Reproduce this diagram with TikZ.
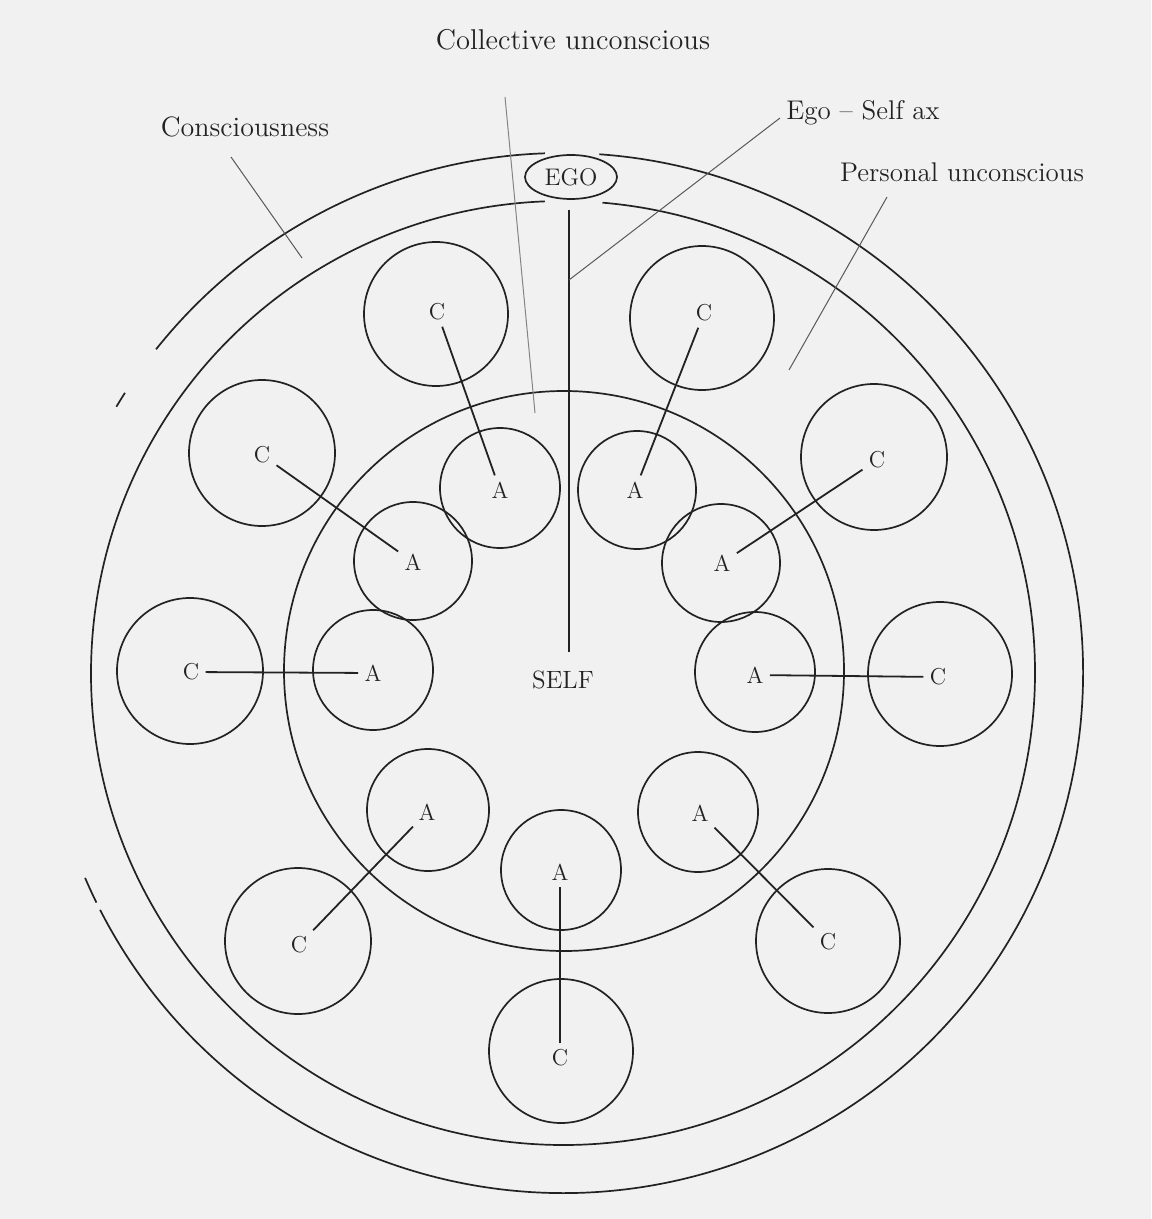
\documentclass[tikz,border=0pt]{standalone}
\usetikzlibrary{shapes.geometric}
\definecolor{paper}{RGB}{241,241,241}
\definecolor{ink}{RGB}{34,34,34}
\begin{document}
\begin{tikzpicture}[x=0.5pt,y=-0.5pt,
  ring/.style={draw=ink, line width=0.85pt},
  ccirc/.style={circle, draw=ink, line width=0.85pt, minimum size=72pt, inner sep=0pt},
  acirc/.style={circle, draw=ink, line width=0.85pt, minimum size=60pt, inner sep=0pt},
  letter/.style={font=\fontsize{11.5}{12}\selectfont, text=ink, inner sep=3pt},
  lbl/.style={font=\fontsize{13.5}{16}\selectfont, text=ink, inner sep=0pt},
  pointer/.style={draw=ink!75, line width=0.5pt},
  link/.style={draw=ink, line width=0.9pt}]
\useasboundingbox (0,0) rectangle (1151,1219);
\fill[paper] (0,0) rectangle (1151,1219);

% centre of the concentric circles
\coordinate (O) at (563,673);

% outermost circle (consciousness border), broken in places
\draw[ring] (O) ++(-92:520) arc[start angle=-92, end angle=-141.5, radius=520];
\draw[ring] (O) ++(-147.4:520) arc[start angle=-147.4, end angle=-149.2, radius=520];
\draw[ring] (O) ++(-203.2:520) arc[start angle=-203.2, end angle=-206.2, radius=520];
\draw[ring] (O) ++(-207.1:520) arc[start angle=-207.1, end angle=-446, radius=520];

% second circle (personal unconscious border), gap at the top
\draw[ring] (O) ++(-85.2:472) arc[start angle=-85.2, end angle=267.8, radius=472];

% inner circle (collective unconscious)
\node[circle, draw=ink, line width=0.85pt, minimum size=280pt, inner sep=0pt] (coll) at (564,671) {};

% EGO and SELF
\node[ellipse, draw=ink, line width=0.85pt, minimum width=46pt, minimum height=22pt, inner sep=0pt,
      font=\fontsize{12}{12}\selectfont, text=ink] (ego) at (571,177) {EGO};
\node[font=\fontsize{12.5}{13}\selectfont, text=ink] (self) at (563,680) {SELF};
\coordinate (axtop) at (569,210);
\coordinate (axbot) at (569,652);
\coordinate (axjoin) at (569,280);
\draw[ring] (axtop) -- (axbot);

% labels
\node[lbl, font=\fontsize{14.3}{16}\selectfont] (lcoll) at (573,40) {Collective unconscious};
\node[lbl, font=\fontsize{14}{16}\selectfont] (lcons) at (245,127) {Consciousness};
\node[lbl] (lego) at (863,113) {Ego -- Self ax};
\node[lbl] (lpers) at (962,172) {Personal unconscious};

\coordinate (pcoll1) at (505,97);  \coordinate (pcoll2) at (535,413);
\coordinate (pcons1) at (231,157); \coordinate (pcons2) at (302,258);
\coordinate (pego1) at (780,118);
\coordinate (ppers1) at (887,197); \coordinate (ppers2) at (789,370);
\draw[pointer, draw=ink!55] (pcoll1) -- (pcoll2);
\draw[pointer] (pcons1) -- (pcons2);
\draw[pointer] (pego1) -- (axjoin);
\draw[pointer] (ppers1) -- (ppers2);

% C circles (complexes)
\node[ccirc] (cc1) at (436,314) {};
\node[ccirc] (cc2) at (702,318) {};
\node[ccirc, minimum size=73pt] (cc3) at (262,453) {};
\node[ccirc, minimum size=73pt] (cc4) at (874,457) {};
\node[ccirc, minimum size=73pt] (cc5) at (190,671) {};
\node[ccirc] (cc6) at (940,674) {};
\node[ccirc, minimum size=73pt] (cc7) at (298,941) {};
\node[ccirc] (cc8) at (828,941) {};
\node[ccirc] (cc9) at (561,1051) {};

% A circles (archetypes)
\node[acirc] (ac1) at (500,488) {};
\node[acirc, minimum size=59pt] (ac2) at (637,490) {};
\node[acirc, minimum size=59pt] (ac3) at (413,561) {};
\node[acirc, minimum size=59pt] (ac4) at (721,563) {};
\node[acirc] (ac5) at (373,670) {};
\node[acirc] (ac6) at (755,672) {};
\node[acirc, minimum size=61pt] (ac7) at (428,810) {};
\node[acirc] (ac8) at (698,812) {};
\node[acirc] (ac9) at (561,870) {};

% letters
\node[letter] (c1) at (437,312) {C};
\node[letter] (c2) at (704,313) {C};
\node[letter] (c3) at (262,455) {C};
\node[letter] (c4) at (877,460) {C};
\node[letter] (c5) at (191,672) {C};
\node[letter] (c6) at (938,677) {C};
\node[letter] (c7) at (299,945) {C};
\node[letter] (c8) at (828,942) {C};
\node[letter] (c9) at (560,1058) {C};

\node[letter] (a1) at (500,490) {A};
\node[letter] (a2) at (635,490) {A};
\node[letter] (a3) at (413,562) {A};
\node[letter] (a4) at (722,563) {A};
\node[letter] (a5) at (373,673) {A};
\node[letter] (a6) at (755,675) {A};
\node[letter] (a7) at (427,812) {A};
\node[letter] (a8) at (700,813) {A};
\node[letter] (a9) at (560,872) {A};

% links between complexes and archetypes
\foreach \i in {1,...,9} { \draw[link] (c\i) -- (a\i); }
\end{tikzpicture}
\end{document}
